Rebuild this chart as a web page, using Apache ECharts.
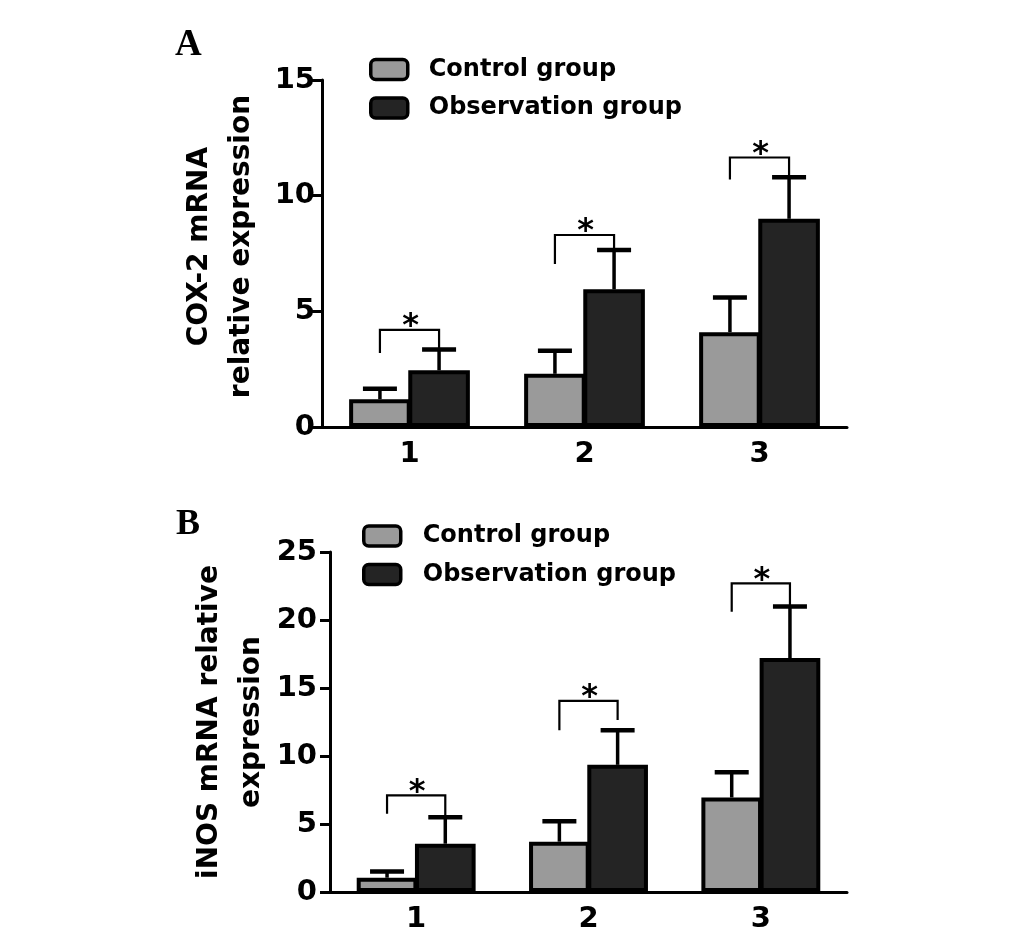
<!DOCTYPE html>
<html>
<head>
<meta charset="utf-8">
<script src="https://cdn.jsdelivr.net/npm/echarts@6/dist/echarts.min.js"></script>
<style>
html,body{margin:0;padding:0;background:#fff;}
#chart{width:1033px;height:942px;}
</style>
</head>
<body>
<div id="chart"></div>
<script>
// ---------- data ----------
const categories = ['1', '2', '3'];
const seriesNames = ['Control group', 'Observation group'];

// Panel A: COX-2 mRNA relative expression
const coxControl = [1.2, 2.3, 4.1];
const coxControlSD = [0.45, 1.0, 1.5];
const coxObs = [2.45, 5.95, 9.0];
const coxObsSD = [0.9, 1.7, 1.8];
const coxBracketTop = [4.2, 8.3, 11.65];
const coxBracketLeftEnd = [3.2, 7.05, 10.7];
const coxBracketRightEnd = [3.35, 7.65, 10.8];
const coxTicks = [0, 5, 10, 15];

// Panel B: iNOS mRNA relative expression
const inosControl = [1.05, 3.7, 6.95];
const inosControlSD = [0.45, 1.5, 1.85];
const inosObs = [3.55, 9.35, 17.2];
const inosObsSD = [1.95, 2.55, 3.8];
const inosBracketTop = [7.1, 14.05, 22.7];
const inosBracketLeftEnd = [5.75, 11.9, 20.6];
const inosBracketRightEnd = [5.5, 12.65, 21.0];
const inosTicks = [0, 5, 10, 15, 20, 25];

// ---------- styling ----------
const GAP = 0.31;      // category gap fraction
const BGAP = -0.04;    // bar gap fraction (borders overlap)
const FONT = 'DejaVu Sans';
const CONTROL_COLOR = '#9a9a9a';
const OBS_COLOR = '#242424';

function errData(mean, sd) {
  return mean.map((m, i) => [i, m, m + sd[i]]);
}
function bracketData(top, l, r) {
  return top.map((t, i) => [i, l[i], t, r[i]]);
}
function barOffset(api) {
  const band = api.size([1, 0])[0];
  const bw = band * (1 - GAP) / (2 + BGAP);
  return bw * (1 + BGAP) / 2;
}
function errRender(side) {
  return function (params, api) {
    const i = api.value(0);
    const c = api.coord([i, api.value(1)]);
    const t = api.coord([i, api.value(2)]);
    const x = c[0] + side * barOffset(api);
    const capHalf = 17;
    return {
      type: 'group',
      children: [
        { type: 'line', shape: { x1: x, y1: c[1], x2: x, y2: t[1] }, style: { stroke: '#000', lineWidth: 3.5 } },
        { type: 'line', shape: { x1: x - capHalf, y1: t[1], x2: x + capHalf, y2: t[1] }, style: { stroke: '#000', lineWidth: 4.5 } }
      ]
    };
  };
}
function bracketRender(params, api) {
  const i = api.value(0);
  const off = barOffset(api);
  const lb = api.coord([i, api.value(1)]);
  const tp = api.coord([i, api.value(2)]);
  const rb = api.coord([i, api.value(3)]);
  const xl = lb[0] - off;
  const xr = lb[0] + off;
  return {
    type: 'group',
    children: [
      { type: 'polyline', shape: { points: [[xl, lb[1]], [xl, tp[1]], [xr, tp[1]], [xr, rb[1]]] },
        style: { stroke: '#000', lineWidth: 2.2, fill: null } },
      { type: 'text', style: { text: '*', x: (xl + xr) / 2 + 1, y: tp[1] - 3,
        textAlign: 'center', textVerticalAlign: 'middle',
        fontFamily: FONT, fontWeight: 'bold', fontSize: 32, fill: '#000' } }
    ]
  };
}

function xAxisCfg(gi) {
  return {
    type: 'category', gridIndex: gi, data: categories,
    axisLine: { lineStyle: { color: '#000', width: 3 } },
    axisTick: { alignWithLabel: true, length: 10, lineStyle: { color: '#000', width: 3 } },
    axisLabel: { color: '#000', fontFamily: FONT, fontWeight: 'bold', fontSize: 29, margin: 13 },
    splitLine: { show: false }
  };
}
function yAxisCfg(gi, ticks, name, gap, labelMargin, pad) {
  return {
    type: 'value', gridIndex: gi, min: ticks[0], max: ticks[ticks.length - 1], interval: ticks[1] - ticks[0],
    name: name, nameLocation: 'middle', nameRotate: 90, nameGap: gap, nameMoveOverlap: false,
    nameTextStyle: { color: '#000', fontFamily: FONT, fontWeight: 'bold', fontSize: 28, lineHeight: 42, padding: pad },
    axisLine: { show: true, lineStyle: { color: '#000', width: 3 } },
    axisTick: { show: true, length: 10, lineStyle: { color: '#000', width: 3 } },
    axisLabel: { color: '#000', fontFamily: FONT, fontWeight: 'bold', fontSize: 29, margin: labelMargin },
    splitLine: { show: false }
  };
}
function barSeries(name, gi, data, color) {
  return {
    name: name, type: 'bar', xAxisIndex: gi, yAxisIndex: gi, data: data,
    barGap: (BGAP * 100) + '%', barCategoryGap: (GAP * 100) + '%',
    itemStyle: { color: color, borderColor: '#000', borderWidth: 4 },
    z: 2
  };
}
function errSeries(gi, data, side) {
  return {
    type: 'custom', xAxisIndex: gi, yAxisIndex: gi, data: data,
    encode: { x: 0, y: [1, 2] }, renderItem: errRender(side), z: 3, silent: true
  };
}
function bracketSeries(gi, data) {
  return {
    type: 'custom', xAxisIndex: gi, yAxisIndex: gi, data: data,
    encode: { x: 0, y: [1, 2, 3] }, renderItem: bracketRender, z: 4, silent: true
  };
}
function legendCfg(left, top, textPad) {
  return {
    data: seriesNames, orient: 'vertical', left: left, top: top, padding: 0,
    itemWidth: 37, itemHeight: 20, itemGap: 14.5, icon: 'roundRect',
    itemStyle: { borderColor: '#000', borderWidth: 3.5 },
    textStyle: { color: '#000', fontFamily: FONT, fontWeight: 'bold', fontSize: 24, padding: [0, 0, 0, textPad] }
  };
}

const option = {
  backgroundColor: '#fff',
  animation: false,
  title: [
    { text: 'A', left: 175, top: 27, padding: 0,
      textStyle: { fontFamily: 'Liberation Serif', fontWeight: 'bold', fontSize: 37, color: '#000' } },
    { text: 'B', left: 176, top: 507, padding: 0,
      textStyle: { fontFamily: 'Liberation Serif', fontWeight: 'bold', fontSize: 36, color: '#000' } }
  ],
  legend: [legendCfg(369, 57.5, 16), legendCfg(362, 524, 17)],
  grid: [
    { left: 322, top: 80, width: 525, height: 347 },
    { left: 330, top: 552, width: 517, height: 340 }
  ],
  xAxis: [xAxisCfg(0), xAxisCfg(1)],
  yAxis: [
    yAxisCfg(0, coxTicks, 'COX-2 mRNA\nrelative expression', 59, 7, [0, 0, 0, 14]),
    yAxisCfg(1, inosTicks, 'iNOS mRNA relative\nexpression', 57, 13, [0, 0, 0, 0])
  ],
  series: [
    barSeries(seriesNames[0], 0, coxControl, CONTROL_COLOR),
    barSeries(seriesNames[1], 0, coxObs, OBS_COLOR),
    errSeries(0, errData(coxControl, coxControlSD), -1),
    errSeries(0, errData(coxObs, coxObsSD), 1),
    bracketSeries(0, bracketData(coxBracketTop, coxBracketLeftEnd, coxBracketRightEnd)),
    barSeries(seriesNames[0], 1, inosControl, CONTROL_COLOR),
    barSeries(seriesNames[1], 1, inosObs, OBS_COLOR),
    errSeries(1, errData(inosControl, inosControlSD), -1),
    errSeries(1, errData(inosObs, inosObsSD), 1),
    bracketSeries(1, bracketData(inosBracketTop, inosBracketLeftEnd, inosBracketRightEnd))
  ]
};

const chart = echarts.init(document.getElementById('chart'), null, { renderer: 'canvas' });
chart.setOption(option);
</script>
</body>
</html>
